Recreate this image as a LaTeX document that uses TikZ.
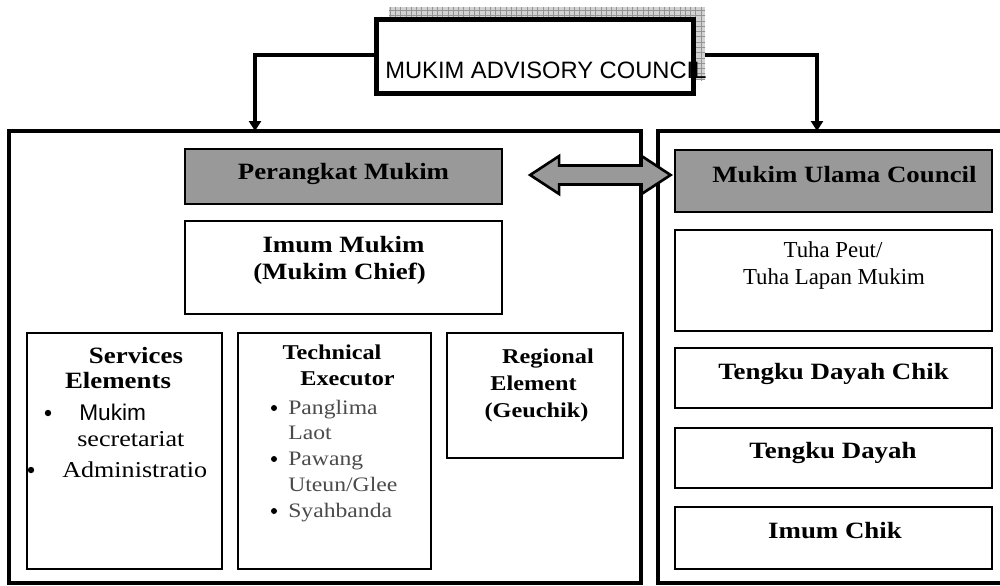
\documentclass[tikz,border=0pt]{standalone}
\usepackage{fontspec}
\usetikzlibrary{arrows.meta,calc,fit,patterns}

\newfontfamily\capsans{Liberation Sans}
\newfontfamily\wideserif[FakeStretch=1.15]{Liberation Serif}
\newfontfamily\plainserif{Liberation Serif}

\definecolor{panelgray}{RGB}{153,153,153}
\definecolor{itemgray}{RGB}{75,75,75}

\tikzset{
  frame/.style={draw, line width=1.6pt, inner sep=0pt, fill=white},
  panel/.style={draw, line width=1.9pt, inner sep=0pt},
  headbox/.style={frame, fill=panelgray},
  conn/.style={line width=2.1pt, -{Triangle[width=0.24cm,length=0.2cm]}},
  lbl/.style={inner sep=0pt, anchor=base},
  lblw/.style={inner sep=0pt, anchor=base west},
  titlefont/.style={font={\wideserif\bfseries\fontsize{13.3}{15}\selectfont}},
  subfont/.style={font={\wideserif\bfseries\fontsize{12}{14}\selectfont}},
  itemfont/.style={font={\wideserif\fontsize{11.7}{14}\selectfont}, text=itemgray},
  bodyfont/.style={font={\wideserif\fontsize{12.9}{15}\selectfont}},
  tuhafont/.style={font={\plainserif\fontsize{13}{15}\selectfont}},
  sansfont/.style={font={\capsans\fontsize{12.9}{15}\selectfont}},
  dot/.style={fill=black},
}

\begin{document}
\begin{tikzpicture}[x=0.02cm, y=-0.02cm]
\useasboundingbox (0,0) rectangle (1000,585);

% outer panels
\node[panel, fit={(9,131) (641,583)}] (lpanel) {};
\node[panel, fit={(658,131) (1010,583)}] (rpanel) {};

% connectors from the advisory council down to both panels
\coordinate (ldrop) at (255,131);
\coordinate (rdrop) at (817,131);
\coordinate (advleft) at (377,55);
\coordinate (advright) at (705,55);
\draw[conn] (advleft) -| (ldrop);
\draw[conn] (advright) -| (rdrop);

% advisory council box with hatched shadow
\coordinate (shadowsw) at (389,80);
\coordinate (shadowne) at (705,7);
\fill[gray!35] (shadowsw) rectangle (shadowne);
\fill[pattern=grid, pattern color=gray!85] (shadowsw) rectangle (shadowne);
\node[frame, line width=1.8pt, fit={(377,20) (693,93)}] (adv) {};
\node[lblw, font={\capsans\fontsize{13.5}{15}\selectfont}] (advtext) at (385,78) {MUKIM ADVISORY COUNCIL};
\draw[line width=1.8pt] (adv.south west) rectangle (adv.north east);

% left panel: Perangkat Mukim
\node[headbox, line width=1.3pt, fit={(185,149) (502,204)}] (per) {};
\node[lbl, titlefont] (pertext) at (343.5,179) {Perangkat Mukim};
\node[frame, line width=1.5pt, fit={(185,221) (502,314)}] (imum) {};
\node[lbl, titlefont] (imum1) at (343.5,252) {Imum Mukim};
\node[lbl, titlefont] (imum2) at (339.5,279) {(Mukim Chief)};

% services elements
\node[frame, line width=1.5pt, fit={(27,333) (222,569)}] (svc) {};
\node[lbl, titlefont] (svc1) at (136,363) {Services};
\node[lbl, titlefont] (svc2) at (118,388) {Elements};
\fill[dot] (48,413) circle (3.2);
\node[lblw, sansfont] (svc3) at (79,420) {Mukim};
\node[lblw, bodyfont] (svc4) at (77,446) {secretariat};
\fill[dot] (31,470) circle (3.2);
\node[lblw, bodyfont] (svc5) at (62,477) {Administratio};

% technical executor
\node[frame, line width=1.5pt, fit={(238,333) (431,569)}] (tech) {};
\node[lbl, subfont] (tech1) at (332,359) {Technical};
\node[lbl, subfont] (tech2) at (347.5,385) {Executor};
\fill[dot] (274,408) circle (3);
\node[lblw, itemfont] (tech3) at (288,414) {Panglima};
\node[lblw, itemfont] (tech4) at (288,439) {Laot};
\fill[dot] (274,459) circle (3);
\node[lblw, itemfont] (tech5) at (288,465) {Pawang};
\node[lblw, itemfont] (tech6) at (288,491) {Uteun/Glee};
\fill[dot] (274,511) circle (3);
\node[lblw, itemfont] (tech7) at (288,517) {Syahbanda};

% regional element
\node[frame, line width=1.5pt, fit={(447,333) (623,458)}] (reg) {};
\node[lbl, subfont] (reg1) at (548,363) {Regional};
\node[lbl, subfont] (reg2) at (533.5,390) {Element};
\node[lbl, subfont] (reg3) at (536.5,417) {(Geuchik)};

% right panel: Mukim Ulama Council
\node[headbox, line width=1.6pt, fit={(675,150) (992,212)}] (ulama) {};
\node[lbl, titlefont] (ulamatext) at (844.5,182) {Mukim Ulama Council};
\node[frame, fit={(675,230) (992,331)}] (tuha) {};
\node[lbl, tuhafont] (tuha1) at (833,257) {Tuha Peut/};
\node[lbl, tuhafont] (tuha2) at (834,284) {Tuha Lapan Mukim};
\node[frame, fit={(675,348) (992,408)}] (tdc) {};
\node[lbl, titlefont] (tdctext) at (833.5,379) {Tengku Dayah Chik};
\node[frame, fit={(675,428) (992,488)}] (td) {};
\node[lbl, titlefont] (tdtext) at (833,458) {Tengku Dayah};
\node[frame, fit={(675,507) (992,569)}] (ic) {};
\node[lbl, titlefont] (ictext) at (835,538) {Imum Chik};

% two-way block arrow between Perangkat Mukim and the Ulama Council
\coordinate (la) at ($(per.east)+(27,-1.5)$);
\coordinate (ra) at ($(ulama.west)+(-3,-6)$);
\draw[line width=1.5pt, fill=panelgray, line join=miter]
  (la) -- ++(29,-19) -- ++(0,9.5) -- ($(ra)+(-29,-9.5)$) -- ++(0,-9.5)
  -- (ra) -- ++(-29,19) -- ++(0,-9.5) -- ($(la)+(29,9.5)$) -- ++(0,9.5) -- cycle;
\end{tikzpicture}
\end{document}
